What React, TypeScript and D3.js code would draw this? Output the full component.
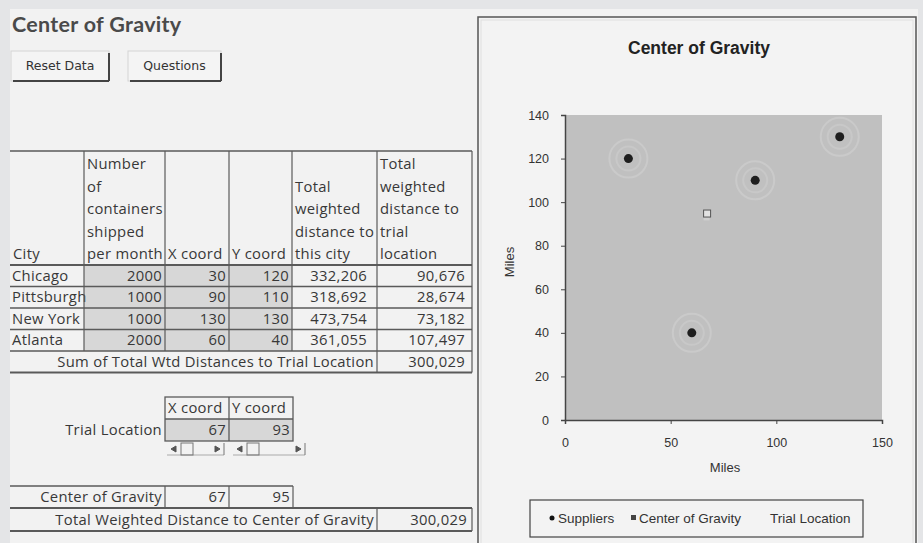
import React, { useEffect, useRef } from "react";
import * as d3 from "d3";

// ---------- data ----------
const cities = ["Chicago", "Pittsburgh", "New York", "Atlanta"];
const containers = [2000, 1000, 1000, 2000];
const xCoords = [30, 90, 130, 60];
const yCoords = [120, 110, 130, 40];
const distToCity = [332206, 318692, 473754, 361055];
const distToTrial = [90676, 28674, 73182, 107497];
const sumTrialDistance = 300029;
const trialLocation = [67, 93];
const centerOfGravity = [67, 95];
const totalCogDistance = 300029;
const xTicks = [0, 50, 100, 150];
const yTicks = [0, 20, 40, 60, 80, 100, 120, 140];
const headerLines = [
  ["City"],
  ["Number", "of", "containers", "shipped", "per month"],
  ["X coord"],
  ["Y coord"],
  ["Total", "weighted", "distance to", "this city"],
  ["Total", "weighted", "distance to", "trial", "location"],
];
const legendItems = ["Suppliers", "Center of Gravity", "Trial Location"];

// ---------- layout ----------
const W = 923;
const H = 543;
const SHEET = "'Open Sans', Lato, sans-serif";
const CHART = "'Liberation Sans', Arial, sans-serif";
const FS = 14.8;
const TXT = "#383838";
const LINE = "#5a5a5a";
const SHADE = "#d7d7d7";
const colX = [10, 84, 165, 229, 292, 377, 472];
const headTop = 151;
const headBottom = 265;
const rowH = 21.5;
const fmt = d3.format(",");

const plot = { left: 565, right: 882, top: 115, bottom: 420 };

function Button({ x, y, w, h, label }: { x: number; y: number; w: number; h: number; label: string }) {
  return (
    <g>
      <rect x={x} y={y} width={w} height={h} fill="#f4f4f4" stroke="#d4d4d4" />
      <line x1={x + w} y1={y + 2} x2={x + w} y2={y + h} stroke="#444" strokeWidth={2} />
      <line x1={x + 2} y1={y + h} x2={x + w} y2={y + h} stroke="#444" strokeWidth={2} />
      <text x={x + w / 2} y={y + h / 2 + 4} textAnchor="middle" fontFamily="'DejaVu Sans', sans-serif" fontSize={12.5} fill="#333">
        {label}
      </text>
    </g>
  );
}

function ScrollBar({ x, w }: { x: number; w: number }) {
  const y = 443;
  return (
    <g stroke="#555" strokeWidth={1} fill="none">
      <line x1={x} y1={y + 12} x2={x + w} y2={y + 12} stroke="#aaa" />
      <path d={`M${x + 9},${y + 3} L${x + 4},${y + 6} L${x + 9},${y + 9}Z`} fill="#555" />
      <rect x={x + 14} y={y} width={12} height={12} stroke="#777" />
      <path d={`M${x + w - 9},${y + 3} L${x + w - 4},${y + 6} L${x + w - 9},${y + 9}Z`} fill="#555" />
      <line x1={x + w} y1={y} x2={x + w} y2={y + 12} stroke="#777" />
    </g>
  );
}

export default function App() {
  const xAxisRef = useRef<SVGGElement>(null);
  const yAxisRef = useRef<SVGGElement>(null);
  const xs = d3.scaleLinear().domain([0, 150]).range([plot.left, plot.right]);
  const ys = d3.scaleLinear().domain([0, 140]).range([plot.bottom, plot.top]);

  useEffect(() => {
    if (xAxisRef.current) {
      const g = d3.select(xAxisRef.current);
      g.call(d3.axisBottom(xs).tickValues(xTicks).tickSize(4).tickPadding(14).tickFormat(d3.format("d")));
      g.select(".domain").attr("stroke", "#444").attr("stroke-width", 1.5);
      g.selectAll(".tick line").attr("stroke", "#444");
      g.selectAll(".tick text").attr("font-family", CHART).attr("font-size", 12.5).attr("fill", "#333");
    }
    if (yAxisRef.current) {
      const g = d3.select(yAxisRef.current);
      g.call(d3.axisLeft(ys).tickValues(yTicks).tickSize(4).tickPadding(12).tickFormat(d3.format("d")));
      g.select(".domain").attr("stroke", "#444").attr("stroke-width", 1.5);
      g.selectAll(".tick line").attr("stroke", "#444");
      g.selectAll(".tick text").attr("font-family", CHART).attr("font-size", 12.5).attr("fill", "#333");
    }
  });

  const rowTops = cities.map((_, i) => headBottom + i * rowH);
  const sumTop = headBottom + cities.length * rowH;
  const sumBottom = sumTop + rowH;
  const t = { fontFamily: SHEET, fontSize: FS, fill: TXT, letterSpacing: 0.3 };

  return (
    <svg width={W} height={H} style={{ position: "absolute", left: 0, top: 0 }}>
      {/* background */}
      <rect x={0} y={0} width={W} height={H} fill="#f2f2f2" />
      <rect x={0} y={0} width={W} height={9} fill="#e4e5e7" />
      <rect x={0} y={0} width={10} height={H} fill="#e4e5e7" />
      <rect x={918} y={0} width={5} height={H} fill="#e4e5e7" />

      {/* sheet title and buttons */}
      <text x={12} y={32} fontFamily="Lato, sans-serif" fontWeight="bold" fontSize={21.5} letterSpacing={0.3} fill="#4a4a4a">
        Center of Gravity
      </text>
      <Button x={11} y={51} w={98} h={30} label="Reset Data" />
      <Button x={128} y={51} w={93} h={30} label="Questions" />

      {/* main table: shaded cells */}
      {cities.map((c, i) => (
        <rect key={"sh" + c} x={colX[1]} y={rowTops[i]} width={colX[4] - colX[1]} height={rowH} fill={SHADE} />
      ))}

      {/* header text */}
      {headerLines.map((lines, ci) =>
        lines.map((s, li) => (
          <text key={`h${ci}-${li}`} x={colX[ci] + 3} y={259 - (lines.length - 1 - li) * 22.5} {...t}>
            {s}
          </text>
        ))
      )}

      {/* data rows */}
      {cities.map((c, i) => {
        const by = rowTops[i] + 15.5;
        return (
          <g key={"r" + c}>
            <text x={colX[0] + 2} y={by} {...t}>{c}</text>
            <text x={colX[2] - 3} y={by} textAnchor="end" {...t}>{containers[i]}</text>
            <text x={colX[3] - 3} y={by} textAnchor="end" {...t}>{xCoords[i]}</text>
            <text x={colX[4] - 3} y={by} textAnchor="end" {...t}>{yCoords[i]}</text>
            <text x={colX[5] - 10} y={by} textAnchor="end" {...t}>{fmt(distToCity[i])}</text>
            <text x={colX[6] - 7} y={by} textAnchor="end" {...t}>{fmt(distToTrial[i])}</text>
          </g>
        );
      })}
      <text x={colX[5] - 3} y={sumTop + 15.5} textAnchor="end" {...t}>
        Sum of Total Wtd Distances to Trial Location
      </text>
      <text x={colX[6] - 7} y={sumTop + 15.5} textAnchor="end" {...t}>
        {fmt(sumTrialDistance)}
      </text>

      {/* main table lines */}
      <g stroke={LINE} fill="none">
        <line x1={colX[0]} y1={headTop} x2={colX[6]} y2={headTop} strokeWidth={1.5} />
        <line x1={colX[0]} y1={headBottom} x2={colX[6]} y2={headBottom} strokeWidth={2} />
        {cities.map((c, i) => (
          <line key={"hl" + c} x1={colX[0]} y1={rowTops[i] + rowH} x2={colX[6]} y2={rowTops[i] + rowH} strokeWidth={1.5} />
        ))}
        <line x1={colX[0]} y1={sumBottom} x2={colX[6]} y2={sumBottom} strokeWidth={2} />
        {colX.slice(1).map((cx) => (
          <line key={"v" + cx} x1={cx} y1={headTop} x2={cx} y2={sumTop} strokeWidth={1.2} />
        ))}
        <line x1={colX[5]} y1={sumTop} x2={colX[5]} y2={sumBottom} strokeWidth={1.2} />
        <line x1={colX[6]} y1={sumTop} x2={colX[6]} y2={sumBottom} strokeWidth={1.2} />
      </g>

      {/* trial location block */}
      <rect x={165} y={419} width={128} height={22} fill={SHADE} />
      <text x={168} y={413} {...t}>X coord</text>
      <text x={232} y={413} {...t}>Y coord</text>
      <text x={162} y={435} textAnchor="end" {...t}>Trial Location</text>
      <text x={226} y={435} textAnchor="end" {...t}>{trialLocation[0]}</text>
      <text x={290} y={435} textAnchor="end" {...t}>{trialLocation[1]}</text>
      <g stroke={LINE} fill="none" strokeWidth={1.3}>
        <rect x={165} y={397} width={128} height={44} />
        <line x1={165} y1={419} x2={293} y2={419} />
        <line x1={229} y1={397} x2={229} y2={441} />
      </g>
      <ScrollBar x={167} w={57} />
      <ScrollBar x={233} w={72} />

      {/* center of gravity block */}
      <text x={162} y={502} textAnchor="end" {...t}>Center of Gravity</text>
      <text x={226} y={502} textAnchor="end" {...t}>{centerOfGravity[0]}</text>
      <text x={290} y={502} textAnchor="end" {...t}>{centerOfGravity[1]}</text>
      <text x={374} y={525} textAnchor="end" {...t}>
        Total Weighted Distance to Center of Gravity
      </text>
      <text x={467} y={525} textAnchor="end" {...t}>{fmt(totalCogDistance)}</text>
      <g stroke={LINE} fill="none">
        <line x1={10} y1={486} x2={293} y2={486} strokeWidth={1.5} />
        <line x1={165} y1={486} x2={165} y2={508} strokeWidth={1.2} />
        <line x1={229} y1={486} x2={229} y2={508} strokeWidth={1.2} />
        <line x1={293} y1={486} x2={293} y2={508} strokeWidth={1.2} />
        <line x1={10} y1={508} x2={472} y2={508} strokeWidth={2} />
        <line x1={10} y1={531} x2={472} y2={531} strokeWidth={2} />
        <line x1={377} y1={508} x2={377} y2={531} strokeWidth={1.2} />
        <line x1={472} y1={508} x2={472} y2={531} strokeWidth={1.2} />
      </g>

      {/* chart frame */}
      <rect x={478} y={17} width={438} height={540} fill="#f3f3f3" stroke="#555" strokeWidth={1.5} />
      <rect x={481} y={20} width={432} height={534} fill="none" stroke="#e0e0e0" strokeWidth={1} />
      <text x={699} y={54} textAnchor="middle" fontFamily={CHART} fontWeight="bold" fontSize={17.5} fill="#222">
        Center of Gravity
      </text>

      {/* plot area */}
      <rect x={plot.left} y={plot.top} width={plot.right - plot.left} height={plot.bottom - plot.top} fill="#c0c0c0" />
      <g ref={xAxisRef} transform={`translate(0,${plot.bottom})`} />
      <g ref={yAxisRef} transform={`translate(${plot.left},0)`} />
      <text x={725} y={472} textAnchor="middle" fontFamily={CHART} fontSize={13} fill="#333">Miles</text>
      <text transform={`translate(514,262) rotate(-90)`} textAnchor="middle" fontFamily={CHART} fontSize={13} fill="#333">
        Miles
      </text>

      {/* supplier halos and markers */}
      {xCoords.map((xv, i) => (
        <g key={"s" + i}>
          <circle cx={xs(xv)} cy={ys(yCoords[i])} r={19} fill="none" stroke="#cacaca" strokeWidth={2} />
          <circle cx={xs(xv)} cy={ys(yCoords[i])} r={12} fill="none" stroke="#c8c8c8" strokeWidth={2} />
          <circle cx={xs(xv)} cy={ys(yCoords[i])} r={4.5} fill="#1e1e1e" />
        </g>
      ))}
      <rect x={xs(trialLocation[0]) - 3} y={ys(trialLocation[1]) - 3} width={6} height={6} fill="#cfcfcf" />
      <rect
        x={xs(centerOfGravity[0]) - 3}
        y={ys(centerOfGravity[1]) - 3}
        width={7}
        height={7}
        fill="#e2e2e2"
        stroke="#555"
        strokeWidth={1}
      />

      {/* legend */}
      <rect x={530} y={500} width={333} height={37} fill="#f3f3f3" stroke="#444" strokeWidth={1.2} />
      <circle cx={552} cy={518} r={2.5} fill="#111" />
      <text x={558} y={523} fontFamily={CHART} fontSize={13.5} fill="#333">{legendItems[0]}</text>
      <rect x={631} y={515} width={5} height={5} fill="#444" />
      <text x={639} y={523} fontFamily={CHART} fontSize={13.5} fill="#333">{legendItems[1]}</text>
      <text x={770} y={523} fontFamily={CHART} fontSize={13.5} fill="#333">{legendItems[2]}</text>
    </svg>
  );
}
